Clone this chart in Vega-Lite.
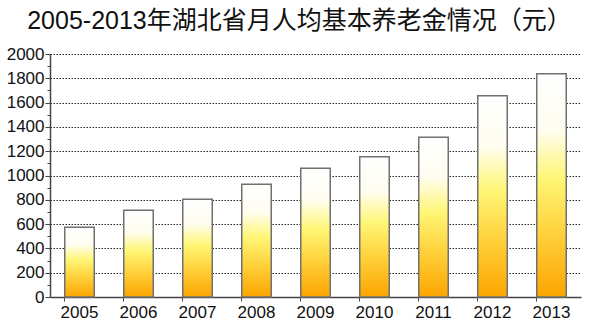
{
  "$schema": "https://vega.github.io/schema/vega-lite/v6.json",
  "autosize": "none",
  "width": 531,
  "height": 243,
  "padding": {"left": 50, "top": 54, "right": 8, "bottom": 27},
  "background": "white",
  "title": {
    "text": "2005-2013年湖北省月人均基本养老金情况（元）",
    "font": "Liberation Sans, Noto Sans CJK SC",
    "fontSize": 25,
    "fontWeight": "normal",
    "color": "#111",
    "anchor": "middle",
    "frame": "group",
    "dx": -16,
    "offset": 11
  },
  "data": {
    "values": [
      {"year": "2005", "value": 575},
      {"year": "2006", "value": 715},
      {"year": "2007", "value": 805},
      {"year": "2008", "value": 928},
      {"year": "2009", "value": 1060},
      {"year": "2010", "value": 1155},
      {"year": "2011", "value": 1315},
      {"year": "2012", "value": 1657},
      {"year": "2013", "value": 1837}
    ]
  },
  "mark": {
    "type": "bar",
    "stroke": "#707070",
    "strokeWidth": 1.5,
    "fill": {
      "gradient": "linear",
      "x1": 0, "y1": 0, "x2": 0, "y2": 1,
      "stops": [
        {"offset": 0, "color": "#ffffff"},
        {"offset": 0.25, "color": "#fffdf0"},
        {"offset": 0.47, "color": "#fff676"},
        {"offset": 0.72, "color": "#ffd03a"},
        {"offset": 1, "color": "#fca500"}
      ]
    }
  },
  "encoding": {
    "x": {
      "field": "year",
      "type": "ordinal",
      "scale": {"paddingInner": 0.5, "paddingOuter": 0.25},
      "axis": {
        "title": null,
        "labelAngle": 0,
        "labelFont": "Liberation Sans",
        "labelFontSize": 17,
        "labelColor": "#111",
        "labelPadding": 3,
        "bandPosition": 0,
        "tickSize": 4,
        "tickColor": "#444",
        "domainColor": "#444",
        "domainWidth": 1.5,
        "grid": false
      }
    },
    "y": {
      "field": "value",
      "type": "quantitative",
      "scale": {"domain": [0, 2000], "nice": false},
      "axis": {
        "title": null,
        "values": [0, 100, 200, 300, 400, 500, 600, 700, 800, 900, 1000, 1100, 1200, 1300, 1400, 1500, 1600, 1700, 1800, 1900, 2000],
        "labelExpr": "datum.value % 200 === 0 ? datum.label : ''",
        "format": "d",
        "labelFont": "Liberation Sans",
        "labelFontSize": 17,
        "labelColor": "#111",
        "labelPadding": 1,
        "tickSize": {"condition": {"test": "datum.value % 200 !== 0", "value": 3}, "value": 5},
        "tickColor": "#444",
        "domainColor": "#444",
        "domainWidth": 1.5,
        "grid": true,
        "gridColor": "#222",
        "gridDash": [1.5, 1.5],
        "gridWidth": 1,
        "gridOpacity": {"condition": {"test": "datum.value % 200 !== 0 || datum.value === 0", "value": 0}, "value": 1}
      }
    }
  },
  "config": {"view": {"stroke": null}}
}
